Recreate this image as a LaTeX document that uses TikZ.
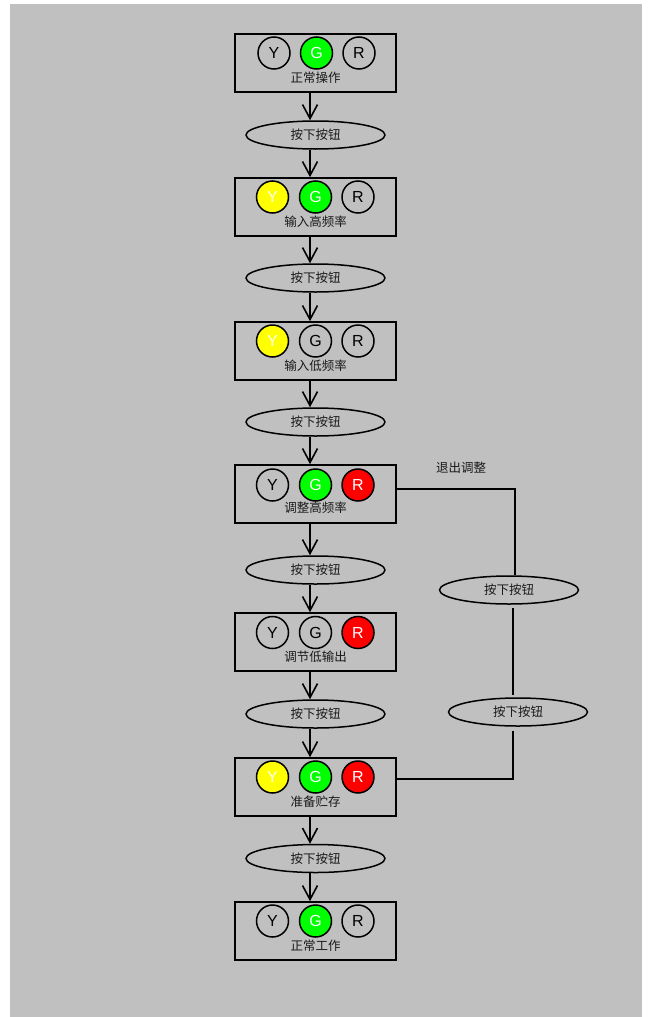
\documentclass[tikz,border=0pt]{standalone}
\usepackage{fontspec}
\setmainfont{Liberation Sans}
\newfontfamily\cjk{Noto Sans CJK SC}
\usetikzlibrary{shapes.geometric,arrows.meta}
\definecolor{bggray}{HTML}{C0C0C0}
\definecolor{lampg}{HTML}{00FF00}
\definecolor{lampy}{HTML}{FFFF00}
\definecolor{lampr}{HTML}{FF0000}
\definecolor{txt}{HTML}{1A1A1A}
\tikzset{
  statebox/.style={draw=black, line width=1.6pt, minimum width=161pt, minimum height=58pt, inner sep=0pt},
  lamp/.style={circle, draw=black, line width=1.5pt, minimum size=32pt, inner sep=0pt, text=black, font=\fontsize{16}{16}\selectfont},
  lampY/.style={lamp, fill=lampy, text=white},
  lampG/.style={lamp, fill=lampg, text=white},
  lampR/.style={lamp, fill=lampr, text=white},
  evt/.style={ellipse, draw=black, line width=1.5pt, minimum width=139pt, minimum height=28pt, inner sep=0pt, text=txt, font=\cjk\fontsize{12.5}{13}\selectfont},
  lbl/.style={inner sep=0pt, text=txt, font=\cjk\fontsize{12.5}{13}\selectfont},
  arr/.style={line width=1.6pt, -{Straight Barb[length=14pt,width=15pt]}},
  link/.style={line width=1.6pt}
}
\begin{document}
\begin{tikzpicture}[x=1pt,y=-1pt]
\useasboundingbox (0,0) rectangle (648,1017);
\fill[bggray] (10,4) rectangle (642,1017);

% state boxes
\node[statebox] (b1) at (315.5,63) {};
\node[statebox] (b2) at (315.5,207) {};
\node[statebox] (b3) at (315.5,351) {};
\node[statebox] (b4) at (315.5,494) {};
\node[statebox] (b5) at (315.5,642) {};
\node[statebox] (b6) at (315.5,787) {};
\node[statebox] (b7) at (315.5,931) {};

% lamps
\node[lamp]  (b1y) at (274,53) {Y};
\node[lampG] (b1g) at (316.5,53) {G};
\node[lamp]  (b1r) at (359,53) {R};
\node[lbl]   (b1t) at (315.5,78) {正常操作};

\node[lampY] (b2y) at (272.5,197) {Y};
\node[lampG] (b2g) at (315.5,197) {G};
\node[lamp]  (b2r) at (358,197) {R};
\node[lbl]   (b2t) at (315.5,222) {输入高频率};

\node[lampY] (b3y) at (272.5,341) {Y};
\node[lamp]  (b3g) at (315.5,341) {G};
\node[lamp]  (b3r) at (358,341) {R};
\node[lbl]   (b3t) at (315.5,366) {输入低频率};

\node[lamp]  (b4y) at (272.5,485) {Y};
\node[lampG] (b4g) at (315.5,485) {G};
\node[lampR] (b4r) at (358,485) {R};
\node[lbl]   (b4t) at (315.5,508) {调整高频率};

\node[lamp]  (b5y) at (272.5,632.5) {Y};
\node[lamp]  (b5g) at (315.5,632.5) {G};
\node[lampR] (b5r) at (358,632.5) {R};
\node[lbl]   (b5t) at (315.5,657) {调节低输出};

\node[lampY] (b6y) at (272.5,777) {Y};
\node[lampG] (b6g) at (315.5,777) {G};
\node[lampR] (b6r) at (358,777) {R};
\node[lbl]   (b6t) at (315.5,801.5) {准备贮存};

\node[lamp]  (b7y) at (272.5,921) {Y};
\node[lampG] (b7g) at (315.5,921) {G};
\node[lamp]  (b7r) at (358,921) {R};
\node[lbl]   (b7t) at (315.5,945.5) {正常工作};

% events
\node[evt] (e1) at (315.5,135) {按下按钮};
\node[evt] (e2) at (315.5,278) {按下按钮};
\node[evt] (e3) at (315.5,422) {按下按钮};
\node[evt] (e4) at (315.5,570) {按下按钮};
\node[evt] (e5) at (315.5,714) {按下按钮};
\node[evt] (e6) at (315.5,858.5) {按下按钮};

\node[evt] (r1) at (509,590) {按下按钮};
\node[evt] (r2) at (518,712) {按下按钮};
\node[lbl] (exit) at (461,468) {退出调整};

% main flow
\foreach \b/\e/\n in {b1/e1/b2, b2/e2/b3, b3/e3/b4, b4/e4/b5, b5/e5/b6, b6/e6/b7}{
  \draw[arr] ([xshift=-5.5pt]\b.south) -- ([xshift=-5.5pt]\e.north);
  \draw[arr] ([xshift=-5.5pt]\e.south) -- ([xshift=-5.5pt]\n.north);
}

% exit loop
\draw[link] ([yshift=5pt]b4.east) -| ([xshift=6pt]r1.north);
\draw[link] ([xshift=4pt,yshift=-3pt]r1.south) -- ([xshift=-5pt,yshift=2pt]r2.north);
\draw[link] ([xshift=-5pt,yshift=-4pt]r2.south) |- ([yshift=8pt]b6.east);
\end{tikzpicture}
\end{document}
